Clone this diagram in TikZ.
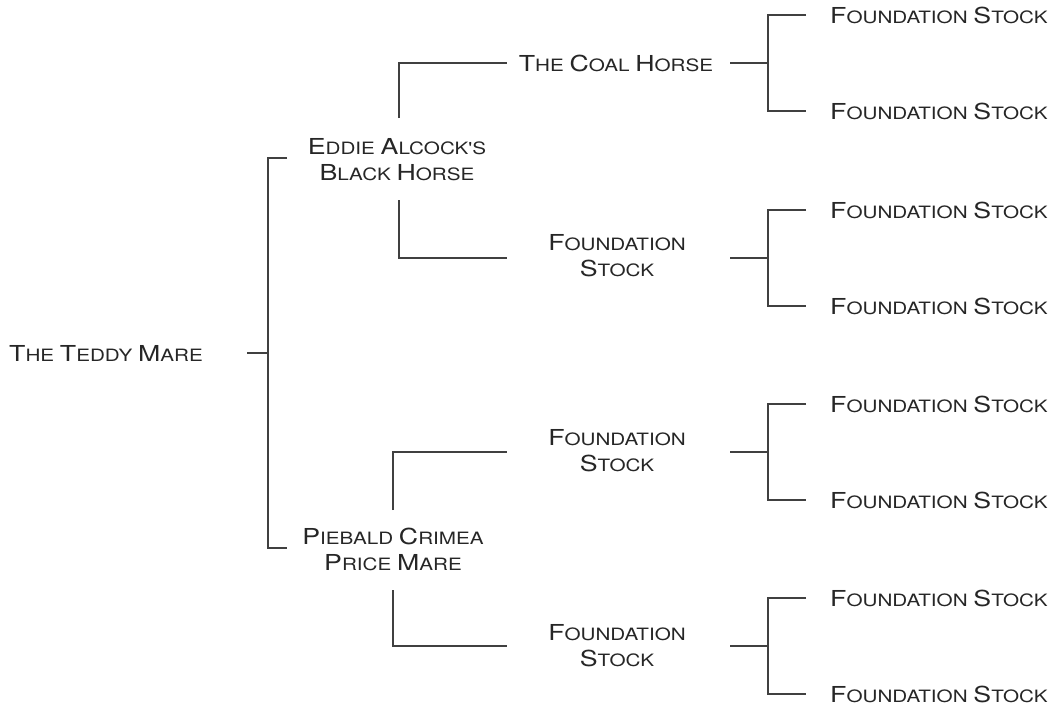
\documentclass[tikz,border=0pt]{standalone}
\usepackage{fontspec}
\newfontfamily\dfont[FakeStretch=1.215]{TeX Gyre Heros}
\newcommand\Sc[2]{{\fontsize{22}{26}\selectfont #1}{\fontsize{17}{26}\selectfont #2}}
\begin{document}
\begin{tikzpicture}[x=1pt,y=-1pt,
  lbl/.style={inner sep=0pt,align=center,font=\dfont\fontsize{17}{26}\selectfont,text=black!85},
  leaf/.style={lbl,anchor=west},
  conn/.style={line width=1.4pt,draw=black!75}]
\useasboundingbox (0,0) rectangle (1055,709);
% nodes
\node[lbl] (root) at (106,353) {\Sc{T}{HE} \Sc{T}{EDDY} \Sc{M}{ARE}};
\node[lbl] (eddie) at (397,160) {\Sc{E}{DDIE} \Sc{A}{LCOCK'S}\\\Sc{B}{LACK} \Sc{H}{ORSE}};
\node[lbl] (pieb) at (393,549) {\Sc{P}{IEBALD} \Sc{C}{RIMEA}\\\Sc{P}{RICE} \Sc{M}{ARE}};
\node[lbl] (coal) at (616,63) {\Sc{T}{HE} \Sc{C}{OAL} \Sc{H}{ORSE}};
\node[lbl] (fa) at (617,256) {\Sc{F}{OUNDATION}\\\Sc{S}{TOCK}};
\node[lbl] (fb) at (617,451) {\Sc{F}{OUNDATION}\\\Sc{S}{TOCK}};
\node[lbl] (fc) at (617,646) {\Sc{F}{OUNDATION}\\\Sc{S}{TOCK}};
\foreach \i/\y in {1/15,2/111,3/210,4/306,5/404,6/500,7/598,8/694}
  \node[leaf] (l\i) at (830,\y) {\Sc{F}{OUNDATION} \Sc{S}{TOCK}};
% coordinates
\coordinate (r0) at (247,353);
\coordinate (rb) at (268,353);
\coordinate (rt) at (268,158);
\coordinate (rd) at (268,548);
\coordinate (et) at (287,158);
\coordinate (pt) at (287,548);
% root bracket
\draw[conn] (r0) -- (rb);
\draw[conn] (et) -- (rt) -- (rd) -- (pt);
% Eddie branches
\coordinate (e1) at (399,118);
\coordinate (e2) at (399,200);
\coordinate (c0) at (507,63);
\coordinate (a0) at (507,258);
\draw[conn] (e1) -- (e1 |- c0) -- (c0);
\draw[conn] (e2) -- (e2 |- a0) -- (a0);
% Piebald branches
\coordinate (p1) at (393,510);
\coordinate (p2) at (393,590);
\coordinate (b0) at (507,452);
\coordinate (d0) at (507,646);
\draw[conn] (p1) -- (p1 |- b0) -- (b0);
\draw[conn] (p2) -- (p2 |- d0) -- (d0);
% right brackets
\foreach \y/\u/\v in {63/1/2,258/3/4,452/5/6,646/7/8}{
  \coordinate (m) at (730,\y);
  \coordinate (k) at (768,\y);
  \coordinate (ku) at (768,\y-48);
  \coordinate (kd) at (768,\y+48);
  \coordinate (tu) at (806,\y-48);
  \coordinate (td) at (806,\y+48);
  \draw[conn] (m) -- (k);
  \draw[conn] (tu) -- (ku) -- (kd) -- (td);
}
\end{tikzpicture}
\end{document}
